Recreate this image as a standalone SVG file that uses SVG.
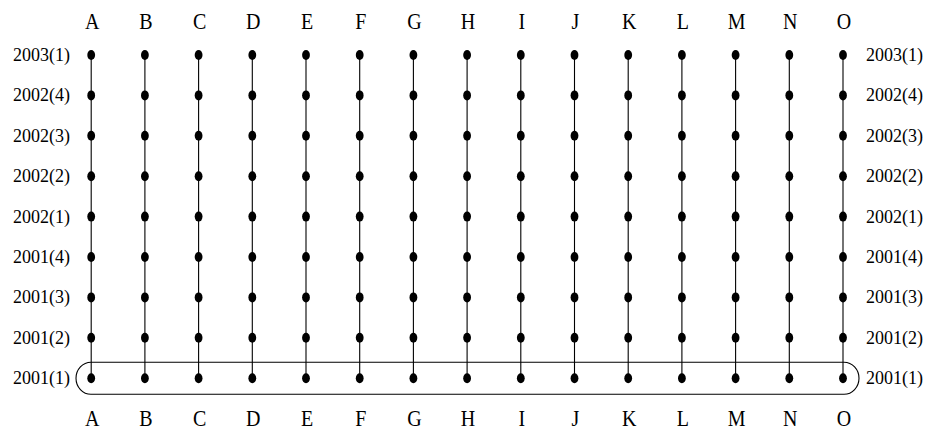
<svg xmlns="http://www.w3.org/2000/svg" width="933" height="433" viewBox="0 0 933 433">
<style>
.col{font-family:"Liberation Serif","DejaVu Serif",serif;font-size:20px;text-anchor:middle;fill:#000}
.row{font-family:"Liberation Serif","DejaVu Serif",serif;font-size:18px;fill:#000}
.l{text-anchor:end}
.ln{stroke:#000;stroke-width:1.1}
.d{fill:#000}
</style>
<defs>
<ellipse id="dot" cx="0" cy="0" rx="3.9" ry="5" class="d"/>
</defs>
<rect width="933" height="433" fill="#fff"/>
<g id="connectors">
<line class="ln" x1="91.2" y1="55" x2="91.2" y2="378.2"/>
<line class="ln" x1="144.9" y1="55" x2="144.9" y2="378.2"/>
<line class="ln" x1="198.6" y1="55" x2="198.6" y2="378.2"/>
<line class="ln" x1="252.3" y1="55" x2="252.3" y2="378.2"/>
<line class="ln" x1="306" y1="55" x2="306" y2="378.2"/>
<line class="ln" x1="359.7" y1="55" x2="359.7" y2="378.2"/>
<line class="ln" x1="413.4" y1="55" x2="413.4" y2="378.2"/>
<line class="ln" x1="467.1" y1="55" x2="467.1" y2="378.2"/>
<line class="ln" x1="520.8" y1="55" x2="520.8" y2="378.2"/>
<line class="ln" x1="574.5" y1="55" x2="574.5" y2="378.2"/>
<line class="ln" x1="628.2" y1="55" x2="628.2" y2="378.2"/>
<line class="ln" x1="681.9" y1="55" x2="681.9" y2="378.2"/>
<line class="ln" x1="735.6" y1="55" x2="735.6" y2="378.2"/>
<line class="ln" x1="789.3" y1="55" x2="789.3" y2="378.2"/>
<line class="ln" x1="843" y1="55" x2="843" y2="378.2"/>
</g>
<g id="highlight">
<rect x="76" y="362.2" width="783" height="32" rx="15" ry="16" fill="none" stroke="#000" stroke-width="1.1"/>
</g>
<g id="column-labels-top" transform="translate(0,29) scale(1,1.2)">
<text class="col" x="92.2" y="0">A</text><text class="col" x="145.9" y="0">B</text><text class="col" x="199.6" y="0">C</text><text class="col" x="253.3" y="0">D</text><text class="col" x="307" y="0">E</text><text class="col" x="360.7" y="0">F</text><text class="col" x="414.4" y="0">G</text><text class="col" x="468.1" y="0">H</text><text class="col" x="521.8" y="0">I</text><text class="col" x="575.5" y="0">J</text><text class="col" x="629.2" y="0">K</text><text class="col" x="682.9" y="0">L</text><text class="col" x="736.6" y="0">M</text><text class="col" x="790.3" y="0">N</text><text class="col" x="844" y="0">O</text>
</g>
<g id="column-labels-bottom" transform="translate(0,426) scale(1,1.2)">
<text class="col" x="92.2" y="0">A</text><text class="col" x="145.9" y="0">B</text><text class="col" x="199.6" y="0">C</text><text class="col" x="253.3" y="0">D</text><text class="col" x="307" y="0">E</text><text class="col" x="360.7" y="0">F</text><text class="col" x="414.4" y="0">G</text><text class="col" x="468.1" y="0">H</text><text class="col" x="521.8" y="0">I</text><text class="col" x="575.5" y="0">J</text><text class="col" x="629.2" y="0">K</text><text class="col" x="682.9" y="0">L</text><text class="col" x="736.6" y="0">M</text><text class="col" x="790.3" y="0">N</text><text class="col" x="844" y="0">O</text>
</g>
<g id="row-labels">
<text class="row l" x="70" y="61">2003(1)</text><text class="row" x="866" y="61">2003(1)</text>
<text class="row l" x="70" y="101.4">2002(4)</text><text class="row" x="866" y="101.4">2002(4)</text>
<text class="row l" x="70" y="141.8">2002(3)</text><text class="row" x="866" y="141.8">2002(3)</text>
<text class="row l" x="70" y="182.2">2002(2)</text><text class="row" x="866" y="182.2">2002(2)</text>
<text class="row l" x="70" y="222.6">2002(1)</text><text class="row" x="866" y="222.6">2002(1)</text>
<text class="row l" x="70" y="263">2001(4)</text><text class="row" x="866" y="263">2001(4)</text>
<text class="row l" x="70" y="303.4">2001(3)</text><text class="row" x="866" y="303.4">2001(3)</text>
<text class="row l" x="70" y="343.8">2001(2)</text><text class="row" x="866" y="343.8">2001(2)</text>
<text class="row l" x="70" y="384.2">2001(1)</text><text class="row" x="866" y="384.2">2001(1)</text>
</g>
<g id="nodes">
<g id="col-A"><use href="#dot" x="91.2" y="55"/><use href="#dot" x="91.2" y="95.4"/><use href="#dot" x="91.2" y="135.8"/><use href="#dot" x="91.2" y="176.2"/><use href="#dot" x="91.2" y="216.6"/><use href="#dot" x="91.2" y="257"/><use href="#dot" x="91.2" y="297.4"/><use href="#dot" x="91.2" y="337.8"/><use href="#dot" x="91.2" y="378.2"/></g>
<g id="col-B"><use href="#dot" x="144.9" y="55"/><use href="#dot" x="144.9" y="95.4"/><use href="#dot" x="144.9" y="135.8"/><use href="#dot" x="144.9" y="176.2"/><use href="#dot" x="144.9" y="216.6"/><use href="#dot" x="144.9" y="257"/><use href="#dot" x="144.9" y="297.4"/><use href="#dot" x="144.9" y="337.8"/><use href="#dot" x="144.9" y="378.2"/></g>
<g id="col-C"><use href="#dot" x="198.6" y="55"/><use href="#dot" x="198.6" y="95.4"/><use href="#dot" x="198.6" y="135.8"/><use href="#dot" x="198.6" y="176.2"/><use href="#dot" x="198.6" y="216.6"/><use href="#dot" x="198.6" y="257"/><use href="#dot" x="198.6" y="297.4"/><use href="#dot" x="198.6" y="337.8"/><use href="#dot" x="198.6" y="378.2"/></g>
<g id="col-D"><use href="#dot" x="252.3" y="55"/><use href="#dot" x="252.3" y="95.4"/><use href="#dot" x="252.3" y="135.8"/><use href="#dot" x="252.3" y="176.2"/><use href="#dot" x="252.3" y="216.6"/><use href="#dot" x="252.3" y="257"/><use href="#dot" x="252.3" y="297.4"/><use href="#dot" x="252.3" y="337.8"/><use href="#dot" x="252.3" y="378.2"/></g>
<g id="col-E"><use href="#dot" x="306" y="55"/><use href="#dot" x="306" y="95.4"/><use href="#dot" x="306" y="135.8"/><use href="#dot" x="306" y="176.2"/><use href="#dot" x="306" y="216.6"/><use href="#dot" x="306" y="257"/><use href="#dot" x="306" y="297.4"/><use href="#dot" x="306" y="337.8"/><use href="#dot" x="306" y="378.2"/></g>
<g id="col-F"><use href="#dot" x="359.7" y="55"/><use href="#dot" x="359.7" y="95.4"/><use href="#dot" x="359.7" y="135.8"/><use href="#dot" x="359.7" y="176.2"/><use href="#dot" x="359.7" y="216.6"/><use href="#dot" x="359.7" y="257"/><use href="#dot" x="359.7" y="297.4"/><use href="#dot" x="359.7" y="337.8"/><use href="#dot" x="359.7" y="378.2"/></g>
<g id="col-G"><use href="#dot" x="413.4" y="55"/><use href="#dot" x="413.4" y="95.4"/><use href="#dot" x="413.4" y="135.8"/><use href="#dot" x="413.4" y="176.2"/><use href="#dot" x="413.4" y="216.6"/><use href="#dot" x="413.4" y="257"/><use href="#dot" x="413.4" y="297.4"/><use href="#dot" x="413.4" y="337.8"/><use href="#dot" x="413.4" y="378.2"/></g>
<g id="col-H"><use href="#dot" x="467.1" y="55"/><use href="#dot" x="467.1" y="95.4"/><use href="#dot" x="467.1" y="135.8"/><use href="#dot" x="467.1" y="176.2"/><use href="#dot" x="467.1" y="216.6"/><use href="#dot" x="467.1" y="257"/><use href="#dot" x="467.1" y="297.4"/><use href="#dot" x="467.1" y="337.8"/><use href="#dot" x="467.1" y="378.2"/></g>
<g id="col-I"><use href="#dot" x="520.8" y="55"/><use href="#dot" x="520.8" y="95.4"/><use href="#dot" x="520.8" y="135.8"/><use href="#dot" x="520.8" y="176.2"/><use href="#dot" x="520.8" y="216.6"/><use href="#dot" x="520.8" y="257"/><use href="#dot" x="520.8" y="297.4"/><use href="#dot" x="520.8" y="337.8"/><use href="#dot" x="520.8" y="378.2"/></g>
<g id="col-J"><use href="#dot" x="574.5" y="55"/><use href="#dot" x="574.5" y="95.4"/><use href="#dot" x="574.5" y="135.8"/><use href="#dot" x="574.5" y="176.2"/><use href="#dot" x="574.5" y="216.6"/><use href="#dot" x="574.5" y="257"/><use href="#dot" x="574.5" y="297.4"/><use href="#dot" x="574.5" y="337.8"/><use href="#dot" x="574.5" y="378.2"/></g>
<g id="col-K"><use href="#dot" x="628.2" y="55"/><use href="#dot" x="628.2" y="95.4"/><use href="#dot" x="628.2" y="135.8"/><use href="#dot" x="628.2" y="176.2"/><use href="#dot" x="628.2" y="216.6"/><use href="#dot" x="628.2" y="257"/><use href="#dot" x="628.2" y="297.4"/><use href="#dot" x="628.2" y="337.8"/><use href="#dot" x="628.2" y="378.2"/></g>
<g id="col-L"><use href="#dot" x="681.9" y="55"/><use href="#dot" x="681.9" y="95.4"/><use href="#dot" x="681.9" y="135.8"/><use href="#dot" x="681.9" y="176.2"/><use href="#dot" x="681.9" y="216.6"/><use href="#dot" x="681.9" y="257"/><use href="#dot" x="681.9" y="297.4"/><use href="#dot" x="681.9" y="337.8"/><use href="#dot" x="681.9" y="378.2"/></g>
<g id="col-M"><use href="#dot" x="735.6" y="55"/><use href="#dot" x="735.6" y="95.4"/><use href="#dot" x="735.6" y="135.8"/><use href="#dot" x="735.6" y="176.2"/><use href="#dot" x="735.6" y="216.6"/><use href="#dot" x="735.6" y="257"/><use href="#dot" x="735.6" y="297.4"/><use href="#dot" x="735.6" y="337.8"/><use href="#dot" x="735.6" y="378.2"/></g>
<g id="col-N"><use href="#dot" x="789.3" y="55"/><use href="#dot" x="789.3" y="95.4"/><use href="#dot" x="789.3" y="135.8"/><use href="#dot" x="789.3" y="176.2"/><use href="#dot" x="789.3" y="216.6"/><use href="#dot" x="789.3" y="257"/><use href="#dot" x="789.3" y="297.4"/><use href="#dot" x="789.3" y="337.8"/><use href="#dot" x="789.3" y="378.2"/></g>
<g id="col-O"><use href="#dot" x="843" y="55"/><use href="#dot" x="843" y="95.4"/><use href="#dot" x="843" y="135.8"/><use href="#dot" x="843" y="176.2"/><use href="#dot" x="843" y="216.6"/><use href="#dot" x="843" y="257"/><use href="#dot" x="843" y="297.4"/><use href="#dot" x="843" y="337.8"/><use href="#dot" x="843" y="378.2"/></g>
</g>
</svg>
